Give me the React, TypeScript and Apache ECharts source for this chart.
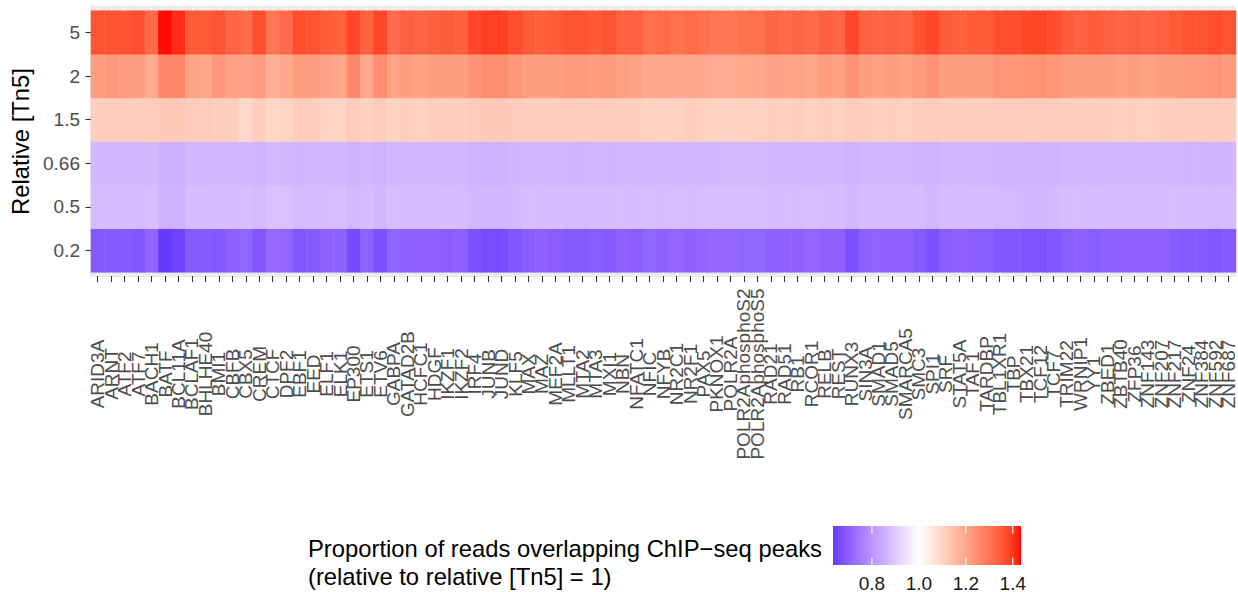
import React, { useEffect, useRef } from "react";
import * as echarts from "echarts";

const genes = [
  "ARID3A", "ARNT", "ATF2", "ATF7", "BACH1", "BATF", "BCL11A", "BCLAF1", "BHLHE40", "BMI1",
  "CBFB", "CBX5", "CREM", "CTCF", "DPF2", "EBF1", "EED", "ELF1", "ELK1", "EP300",
  "ETS1", "ETV6", "GABPA", "GATAD2B", "HCFC1", "HDGF", "IKZF1", "IKZF2", "IRF4", "JUNB",
  "JUND", "KLF5", "MAX", "MAZ", "MEF2A", "MLLT1", "MTA2", "MTA3", "MXI1", "NBN",
  "NFATC1", "NFIC", "NFYB", "NR2C1", "NR2F1", "PAX5", "PKNOX1", "POLR2A", "POLR2AphosphoS2", "POLR2AphosphoS5",
  "RAD21", "RAD51", "RB1", "RCOR1", "RELB", "REST", "RUNX3", "SIN3A", "SMAD1", "SMAD5",
  "SMARCA5", "SMC3", "SPI1", "SRF", "STAT5A", "TAF1", "TARDBP", "TBL1XR1", "TBP", "TBX21",
  "TCF12", "TCF7", "TRIM22", "WRNIP1", "YY1", "ZBED1", "ZBTB40", "ZFP36", "ZNF143", "ZNF207",
  "ZNF217", "ZNF24", "ZNF384", "ZNF592", "ZNF687",
];

const tn5Levels = ["0.2", "0.5", "0.66", "1.5", "2", "5"];

const valsTn5_5 = [
  1.36, 1.36, 1.36, 1.37, 1.32, 1.43, 1.41, 1.35, 1.35, 1.36, 1.33, 1.32, 1.37, 1.30, 1.32, 1.37, 1.36, 1.35, 1.34, 1.38,
  1.34, 1.38, 1.32, 1.34, 1.33, 1.34, 1.35, 1.34, 1.38, 1.39, 1.39, 1.37, 1.35, 1.34, 1.35, 1.36, 1.36, 1.35, 1.36, 1.34,
  1.34, 1.31, 1.32, 1.31, 1.32, 1.31, 1.30, 1.30, 1.31, 1.31, 1.33, 1.32, 1.33, 1.32, 1.34, 1.33, 1.38, 1.34, 1.33, 1.34,
  1.33, 1.36, 1.38, 1.35, 1.34, 1.35, 1.35, 1.37, 1.37, 1.38, 1.38, 1.37, 1.35, 1.34, 1.35, 1.34, 1.33, 1.34, 1.33, 1.34,
  1.35, 1.36, 1.36, 1.37, 1.36,
];
const valsTn5_2 = [
  1.22, 1.23, 1.22, 1.22, 1.19, 1.26, 1.26, 1.21, 1.20, 1.23, 1.21, 1.21, 1.22, 1.18, 1.20, 1.22, 1.22, 1.21, 1.20, 1.26,
  1.20, 1.25, 1.21, 1.215, 1.21, 1.215, 1.22, 1.215, 1.24, 1.25, 1.25, 1.235, 1.22, 1.215, 1.22, 1.225, 1.225, 1.22, 1.225, 1.215,
  1.21, 1.195, 1.20, 1.195, 1.20, 1.195, 1.19, 1.19, 1.195, 1.195, 1.21, 1.205, 1.21, 1.20, 1.215, 1.21, 1.24, 1.215, 1.21, 1.215,
  1.21, 1.225, 1.24, 1.22, 1.215, 1.22, 1.22, 1.235, 1.235, 1.24, 1.24, 1.235, 1.22, 1.215, 1.22, 1.215, 1.21, 1.215, 1.21, 1.215,
  1.22, 1.225, 1.225, 1.235, 1.225,
];
const valsTn5_1_5 = [
  1.11, 1.11, 1.11, 1.11, 1.115, 1.12, 1.12, 1.115, 1.115, 1.11, 1.11, 1.085, 1.11, 1.09, 1.10, 1.115, 1.11, 1.10, 1.10, 1.115,
  1.105, 1.115, 1.10, 1.11, 1.105, 1.11, 1.11, 1.11, 1.115, 1.12, 1.12, 1.115, 1.11, 1.11, 1.11, 1.115, 1.11, 1.11, 1.115, 1.11,
  1.11, 1.105, 1.105, 1.105, 1.11, 1.105, 1.10, 1.10, 1.105, 1.105, 1.11, 1.105, 1.11, 1.105, 1.11, 1.105, 1.115, 1.11, 1.105, 1.11,
  1.105, 1.11, 1.115, 1.11, 1.11, 1.11, 1.11, 1.115, 1.115, 1.115, 1.115, 1.115, 1.11, 1.11, 1.11, 1.11, 1.105, 1.11, 1.105, 1.11,
  1.11, 1.11, 1.11, 1.115, 1.11,
];
const valsTn5_0_66 = [
  0.865, 0.865, 0.865, 0.865, 0.87, 0.85, 0.852, 0.865, 0.865, 0.865, 0.867, 0.868, 0.862, 0.872, 0.868, 0.862, 0.865, 0.866, 0.868, 0.858,
  0.867, 0.86, 0.868, 0.866, 0.867, 0.866, 0.865, 0.866, 0.86, 0.858, 0.858, 0.862, 0.865, 0.866, 0.865, 0.864, 0.864, 0.865, 0.864, 0.866,
  0.865, 0.868, 0.867, 0.868, 0.867, 0.868, 0.87, 0.87, 0.869, 0.869, 0.866, 0.867, 0.866, 0.868, 0.866, 0.867, 0.86, 0.866, 0.867, 0.866,
  0.867, 0.864, 0.86, 0.865, 0.866, 0.865, 0.865, 0.862, 0.862, 0.86, 0.86, 0.862, 0.865, 0.866, 0.865, 0.866, 0.867, 0.866, 0.867, 0.866,
  0.865, 0.864, 0.864, 0.862, 0.864,
];
const valsTn5_0_5 = [
  0.875, 0.875, 0.875, 0.874, 0.88, 0.855, 0.858, 0.876, 0.876, 0.875, 0.878, 0.88, 0.872, 0.885, 0.884, 0.872, 0.875, 0.877, 0.879, 0.865,
  0.878, 0.868, 0.879, 0.877, 0.878, 0.877, 0.876, 0.877, 0.868, 0.865, 0.865, 0.87, 0.876, 0.877, 0.876, 0.875, 0.875, 0.876, 0.875, 0.877,
  0.876, 0.88, 0.878, 0.88, 0.878, 0.88, 0.882, 0.882, 0.88, 0.88, 0.877, 0.878, 0.877, 0.88, 0.877, 0.878, 0.868, 0.877, 0.878, 0.877,
  0.878, 0.875, 0.868, 0.876, 0.877, 0.876, 0.876, 0.872, 0.872, 0.868, 0.868, 0.872, 0.876, 0.877, 0.876, 0.877, 0.878, 0.877, 0.878, 0.877,
  0.876, 0.875, 0.875, 0.872, 0.875,
];
const valsTn5_0_2 = [
  0.685, 0.69, 0.69, 0.68, 0.71, 0.634, 0.645, 0.69, 0.69, 0.685, 0.70, 0.71, 0.68, 0.72, 0.71, 0.68, 0.69, 0.70, 0.705, 0.66,
  0.705, 0.67, 0.71, 0.70, 0.705, 0.70, 0.695, 0.70, 0.67, 0.665, 0.665, 0.68, 0.695, 0.70, 0.695, 0.69, 0.69, 0.695, 0.69, 0.70,
  0.695, 0.71, 0.705, 0.71, 0.705, 0.71, 0.715, 0.715, 0.71, 0.71, 0.70, 0.705, 0.70, 0.71, 0.70, 0.705, 0.67, 0.70, 0.705, 0.70,
  0.705, 0.69, 0.67, 0.695, 0.70, 0.695, 0.695, 0.68, 0.68, 0.675, 0.675, 0.68, 0.695, 0.70, 0.695, 0.70, 0.705, 0.70, 0.705, 0.70,
  0.695, 0.69, 0.69, 0.68, 0.69,
];

const rowsByLevel = [valsTn5_0_2, valsTn5_0_5, valsTn5_0_66, valsTn5_1_5, valsTn5_2, valsTn5_5];

const colorLimits = [0.634, 1.435];
const colorMidpoint = 1.0;
const legendBreaks = [0.8, 1.0, 1.2, 1.4];
const legendBreakLabels = ["0.8", "1.0", "1.2", "1.4"];

// ---- colour helpers (Lab interpolation, like scale_fill_gradient2) ----
function toLin(c: number) {
  c /= 255;
  return c <= 0.04045 ? c / 12.92 : Math.pow((c + 0.055) / 1.055, 2.4);
}
function fromLin(c: number) {
  const v = c <= 0.0031308 ? 12.92 * c : 1.055 * Math.pow(c, 1 / 2.4) - 0.055;
  return Math.round(Math.max(0, Math.min(1, v)) * 255);
}
function rgbToLab(rgb: number[]) {
  const r = toLin(rgb[0]), g = toLin(rgb[1]), b = toLin(rgb[2]);
  const X = (0.4124 * r + 0.3576 * g + 0.1805 * b) / 0.95047;
  const Y = 0.2126 * r + 0.7152 * g + 0.0722 * b;
  const Z = (0.0193 * r + 0.1192 * g + 0.9505 * b) / 1.08883;
  const f = (t: number) => (t > 0.008856 ? Math.cbrt(t) : 7.787 * t + 16 / 116);
  const fx = f(X), fy = f(Y), fz = f(Z);
  return [116 * fy - 16, 500 * (fx - fy), 200 * (fy - fz)];
}
function labToRgb(lab: number[]) {
  const fy = (lab[0] + 16) / 116;
  const fx = fy + lab[1] / 500;
  const fz = fy - lab[2] / 200;
  const inv = (t: number) => (t > 0.206893 ? t * t * t : (t - 16 / 116) / 7.787);
  const X = inv(fx) * 0.95047, Y = inv(fy), Z = inv(fz) * 1.08883;
  const r = 3.2406 * X - 1.5372 * Y - 0.4986 * Z;
  const g = -0.9689 * X + 1.8758 * Y + 0.0415 * Z;
  const b = 0.0557 * X - 0.204 * Y + 1.057 * Z;
  return [fromLin(r), fromLin(g), fromLin(b)];
}
const LAB_LOW = rgbToLab([0, 0, 255]);
const LAB_MID = rgbToLab([255, 255, 255]);
const LAB_HIGH = rgbToLab([255, 0, 0]);
function gradient2(v: number) {
  const span = Math.max(colorMidpoint - colorLimits[0], colorLimits[1] - colorMidpoint);
  const target = v < colorMidpoint ? LAB_LOW : LAB_HIGH;
  const t = Math.min(1, Math.abs(v - colorMidpoint) / span);
  const lab = [0, 1, 2].map((k) => LAB_MID[k] + (target[k] - LAB_MID[k]) * t);
  const rgb = labToRgb(lab);
  return "rgb(" + rgb.join(",") + ")";
}

const N_STOPS = 80;
const stopColors: string[] = [];
for (let i = 0; i < N_STOPS; i++) {
  const v = colorLimits[0] + ((colorLimits[1] - colorLimits[0]) * i) / (N_STOPS - 1);
  stopColors.push(gradient2(v));
}

const FONT = "'Liberation Sans', Arial, Helvetica, sans-serif";

export default function App() {
  const ref = useRef<HTMLDivElement>(null);
  useEffect(() => {
    if (!ref.current) return;
    const chart = echarts.init(ref.current, undefined, { renderer: "svg" });

    const data: number[][] = [];
    rowsByLevel.forEach((row, yi) => {
      row.forEach((v, xi) => data.push([xi, yi, v]));
    });

    // legend geometry
    const barX = 833, barY = 526, barW = 188, barH = 39;
    const toBarX = (v: number) => barX + ((v - colorLimits[0]) / (colorLimits[1] - colorLimits[0])) * barW;
    const graphics: any[] = [
      {
        type: "rect",
        shape: { x: barX, y: barY, width: barW, height: barH },
        style: {
          fill: {
            type: "linear", x: 0, y: 0, x2: 1, y2: 0,
            colorStops: stopColors.map((c, i) => ({ offset: i / (N_STOPS - 1), color: c })),
          },
        },
        silent: true,
      },
    ];
    legendBreaks.forEach((b, i) => {
      const x = toBarX(b);
      graphics.push({ type: "line", shape: { x1: x, y1: barY, x2: x, y2: barY + 7.5 }, style: { stroke: "#FFFFFF", lineWidth: 1.1 }, silent: true });
      graphics.push({ type: "line", shape: { x1: x, y1: barY + barH - 7.5, x2: x, y2: barY + barH }, style: { stroke: "#FFFFFF", lineWidth: 1.1 }, silent: true });
      graphics.push({
        type: "text", x, y: 583,
        style: { text: legendBreakLabels[i], fill: "#1A1A1A", font: `19px ${FONT}`, textAlign: "center", textVerticalAlign: "middle" },
        silent: true,
      });
    });
    graphics.push({
      type: "text", x: 308, y: 548,
      style: { text: "Proportion of reads overlapping ChIP\u2212seq peaks", fill: "#000000", font: `23.8px ${FONT}`, textAlign: "left", textVerticalAlign: "middle" },
      silent: true,
    });
    graphics.push({
      type: "text", x: 308, y: 576,
      style: { text: "(relative to relative [Tn5] = 1)", fill: "#000000", font: `23.8px ${FONT}`, textAlign: "left", textVerticalAlign: "middle" },
      silent: true,
    });

    const nCat = genes.length;
    const tileLeft = 91, tileRight = 1236;
    const half = (tileRight - tileLeft) / nCat / 2;

    chart.setOption({
      animation: false,
      textStyle: { fontFamily: FONT },
      grid: [
        { left: tileLeft, right: 1238 - tileRight, top: 10.7, bottom: 592 - 272.3 },
        { left: tileLeft, right: 1238 - tileRight, top: 6.5, bottom: 592 - 276, show: true, backgroundColor: "#EBEBEB", borderWidth: 2, borderColor: "#EBEBEB" },
        { left: tileLeft - half, right: 1238 - (tileRight - half), top: 6.5, bottom: 592 - 276 },
      ],
      xAxis: [
        { type: "category", gridIndex: 0, data: genes, axisLine: { show: false }, axisTick: { show: false }, axisLabel: { show: false }, splitLine: { show: false } },
        {
          type: "category", gridIndex: 1, data: genes,
          axisLine: { show: false },
          axisTick: { show: true, alignWithLabel: true, interval: 0, length: 6, lineStyle: { color: "#333333", width: 1.1 } },
          axisLabel: { interval: 0, rotate: 90, align: "center", verticalAlign: "middle", margin: 98, fontSize: 19, color: "#4D4D4D", fontFamily: FONT },
          splitLine: { show: false },
        },
        {
          type: "value", gridIndex: 2, min: 0, max: nCat, interval: 1,
          axisLine: { show: false }, axisTick: { show: false }, axisLabel: { show: false },
          splitLine: { show: true, lineStyle: { color: "#FFFFFF", width: 1.1 } },
        },
      ],
      yAxis: [
        {
          type: "category", gridIndex: 0, data: tn5Levels,
          axisLine: { show: false },
          axisTick: { show: true, alignWithLabel: true, length: 5.5, lineStyle: { color: "#333333", width: 1.1 } },
          axisLabel: { margin: 11, fontSize: 19, color: "#4D4D4D", fontFamily: FONT },
          splitLine: { show: false },
          name: "Relative [Tn5]", nameLocation: "middle", nameRotate: 90, nameGap: 58,
          nameTextStyle: { fontSize: 23.8, color: "#000000", fontFamily: FONT },
        },
        { type: "value", gridIndex: 1, show: false },
        { type: "value", gridIndex: 2, show: false },
      ],
      visualMap: {
        type: "continuous", show: false, seriesIndex: 0, dimension: 2,
        min: colorLimits[0], max: colorLimits[1],
        inRange: { color: stopColors },
      },
      series: [
        {
          type: "heatmap", xAxisIndex: 0, yAxisIndex: 0, data,
          itemStyle: { borderWidth: 0 },
          emphasis: { disabled: true },
        },
      ],
      graphic: graphics,
    });
    return () => chart.dispose();
  }, []);
  return <div ref={ref} style={{ position: "absolute", left: 0, top: 0, width: 1238, height: 592 }} />;
}
